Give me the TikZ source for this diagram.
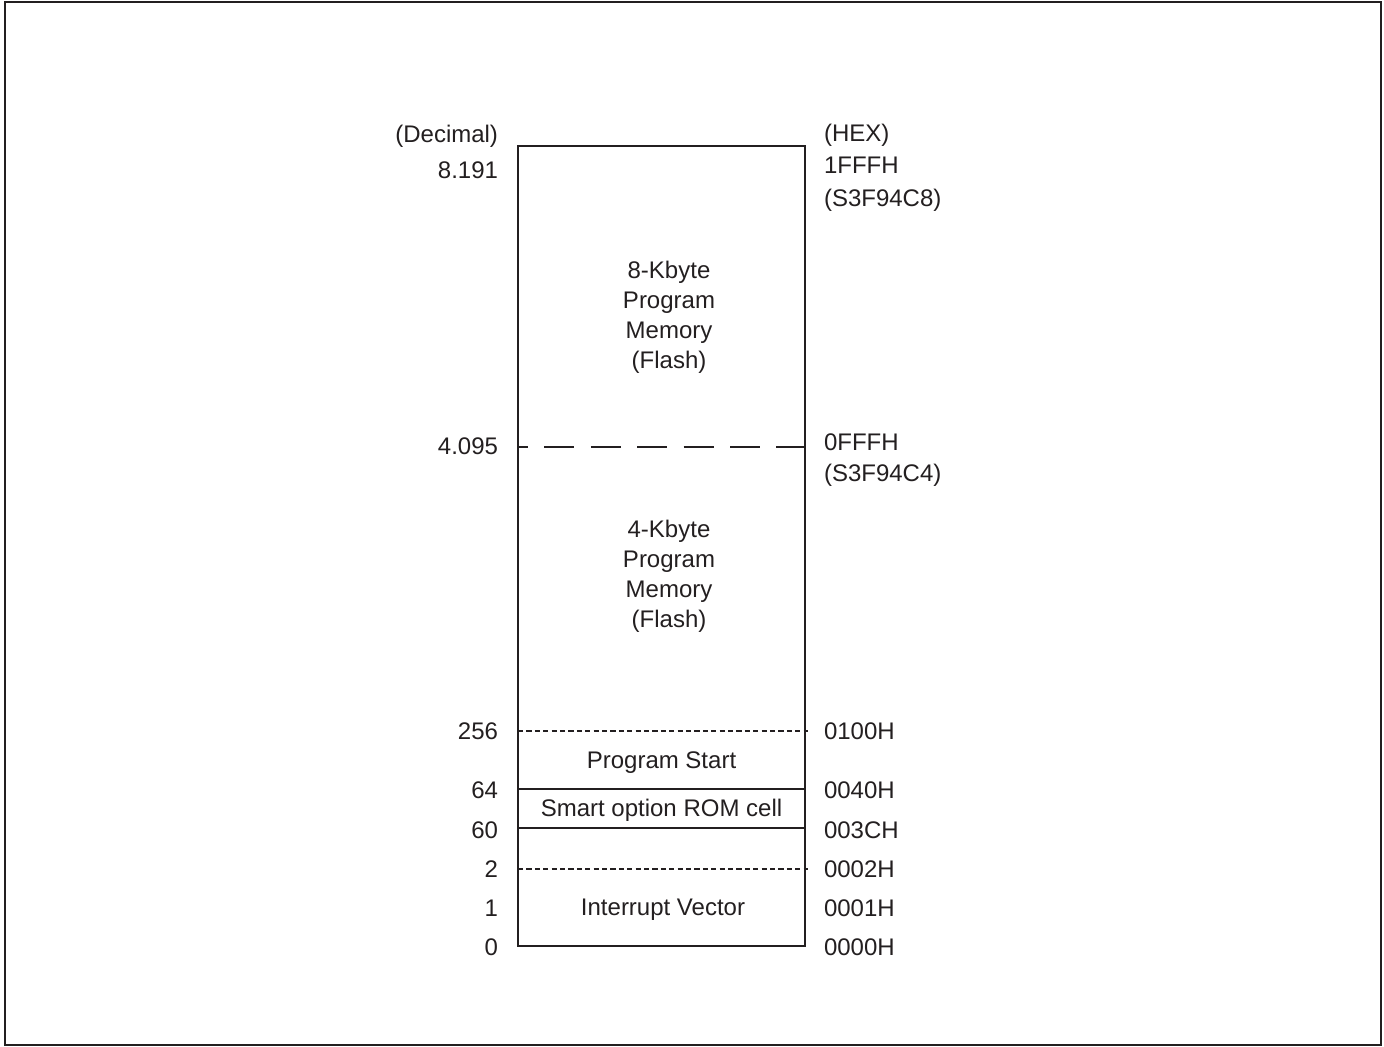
\documentclass[tikz,border=0pt]{standalone}
\usepackage{fontspec}
\setmainfont{Liberation Sans}
\definecolor{ink}{HTML}{231F20}
\begin{document}
\begin{tikzpicture}[x=0.5pt,y=-0.5pt,
  every node/.style={inner sep=0pt,outer sep=0pt,text=ink,font=\fontsize{12}{15}\selectfont},
  lab/.style={anchor=base east},
  hex/.style={anchor=base west},
  region/.style={align=center},
  frame/.style={draw=ink,line width=1pt},
  longdash/.style={draw=ink,line width=1.4pt,dash pattern=on 15pt off 8.2pt,dash phase=10pt},
  shortdash/.style={draw=ink,line width=1.2pt,dash pattern=on 2.6pt off 1.6pt},
  solidline/.style={draw=ink,line width=1pt}]
\useasboundingbox (0,0) rectangle (1384,1047);
\draw[frame] (4.5,2.5) rectangle (1381,1045);
% memory block
\draw[frame] (518,146) rectangle (805,946);
\coordinate (d1L) at (518,447); \coordinate (d1R) at (805,447);
\coordinate (d2L) at (518,731); \coordinate (d2R) at (808,731);
\coordinate (s1L) at (518,789); \coordinate (s1R) at (805,789);
\coordinate (s2L) at (518,828); \coordinate (s2R) at (805,828);
\coordinate (d3L) at (518,869); \coordinate (d3R) at (808,869);
\draw[longdash] (d1L) -- (d1R);
\draw[shortdash] (d2L) -- (d2R);
\draw[solidline] (s1L) -- (s1R);
\draw[solidline] (s2L) -- (s2R);
\draw[shortdash] (d3L) -- (d3R);
% region texts
\node[region] (r8k) at (669,317) {8-Kbyte\\Program\\Memory\\(Flash)};
\node[region] (r4k) at (669,576) {4-Kbyte\\Program\\Memory\\(Flash)};
\node (rps) at (661.5,763) {Program Start};
\node (rsm) at (661.5,810) {Smart option ROM cell};
\node (riv) at (663,910) {Interrupt Vector};
% decimal labels
\node[lab] (ldec) at (498,142.5) {(Decimal)};
\node[lab] (l8191) at (498,178.5) {8.191};
\node[lab] (l4095) at (498,454.5) {4.095};
\node[lab] (l256) at (498,739.5) {256};
\node[lab] (l64) at (498,798.5) {64};
\node[lab] (l60) at (498,838.5) {60};
\node[lab] (l2) at (498,877.5) {2};
\node[lab] (l1) at (498,916.5) {1};
\node[lab] (l0) at (498,955.5) {0};
% hex labels
\node[hex] (hhex) at (824,141.5) {(HEX)};
\node[hex] (h1fff) at (824,173.5) {1FFFH};
\node[hex] (hc8) at (824,206.5) {(S3F94C8)};
\node[hex] (h0fff) at (824,450.5) {0FFFH};
\node[hex] (hc4) at (824,481.5) {(S3F94C4)};
\node[hex] (h0100) at (824,739.5) {0100H};
\node[hex] (h0040) at (824,798.5) {0040H};
\node[hex] (h003c) at (824,838.5) {003CH};
\node[hex] (h0002) at (824,877.5) {0002H};
\node[hex] (h0001) at (824,916.5) {0001H};
\node[hex] (h0000) at (824,955.5) {0000H};
\end{tikzpicture}
\end{document}
